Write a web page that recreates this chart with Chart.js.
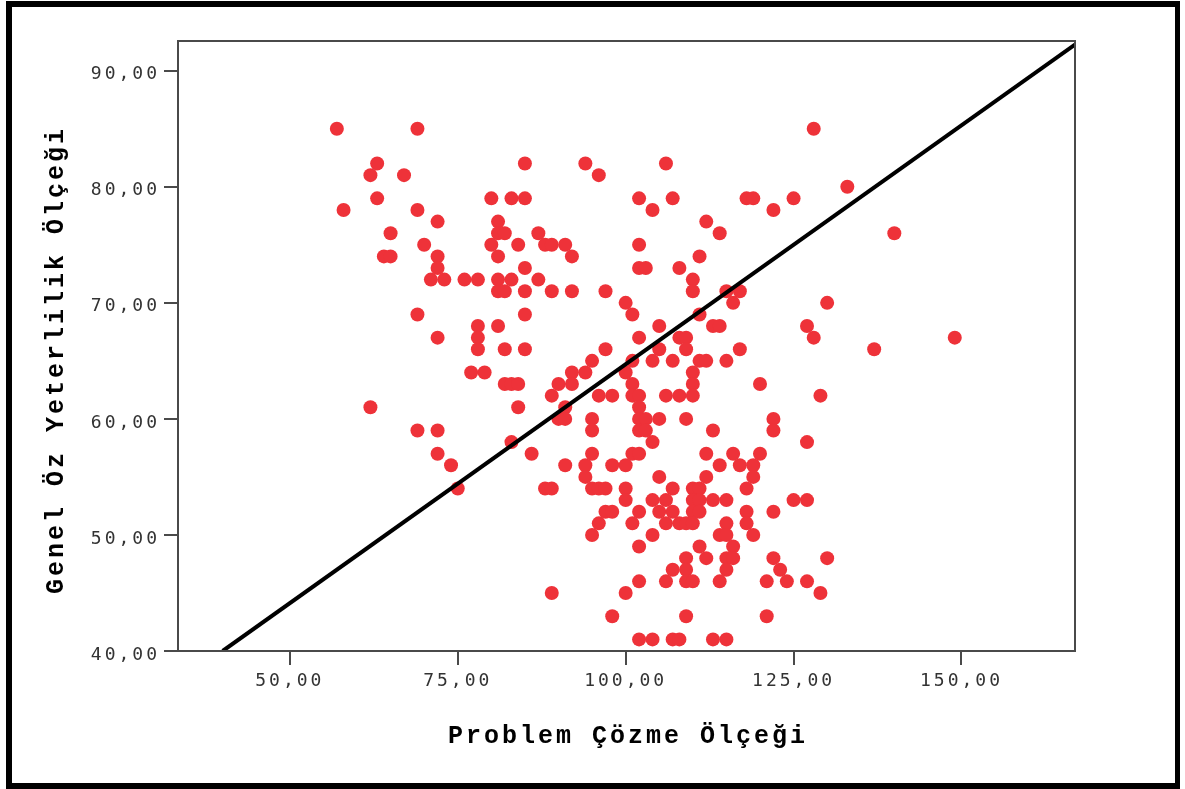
<!DOCTYPE html>
<html>
<head>
<meta charset="utf-8">
<title>Problem Çözme / Genel Öz Yeterlilik</title>
<script src="https://cdn.jsdelivr.net/npm/chart.js@4.4.0/dist/chart.umd.min.js"></script>
<style>
  html, body { margin: 0; padding: 0; background: #fff; }
  canvas { display: block; }
</style>
</head>
<body>
<canvas id="scatter" width="1185" height="789"></canvas>
<script>
// ---------- Data (one line per score level) ----------
const problemScores = [
  57, 69, 128,
  63, 85, 94, 106,
  62, 67, 96,
  133,
  63, 80, 83, 85, 102, 107, 118, 119, 125,
  58, 69, 104, 122,
  72, 81, 112,
  65, 81, 82, 87, 114, 140,
  70, 80, 84, 88, 89, 91, 102,
  64, 65, 72, 81, 92, 111,
  72, 85, 102, 103, 108,
  71, 73, 76, 78, 81, 83, 87, 110,
  81, 82, 85, 89, 92, 97, 110, 115, 117,
  100, 116, 130,
  69, 85, 101, 111,
  78, 81, 105, 113, 114, 127,
  72, 78, 102, 108, 109, 128, 149,
  78, 82, 85, 97, 105, 109, 117, 137,
  95, 101, 104, 107, 111, 112, 115,
  77, 79, 92, 94, 100, 110,
  82, 83, 84, 90, 92, 101, 110, 120,
  89, 96, 98, 101, 102, 106, 108, 110, 129,
  62, 84, 91, 102,
  90, 91, 95, 102, 103, 105, 109, 122,
  69, 72, 95, 102, 103, 113, 122,
  83, 104, 127,
  72, 86, 95, 101, 102, 112, 116, 120,
  74, 91, 94, 98, 100, 114, 117, 119,
  94, 105, 112, 119,
  75, 88, 89, 95, 96, 97, 100, 107, 110, 111, 118,
  100, 104, 106, 110, 111, 113, 115, 125, 127,
  97, 98, 102, 105, 107, 110, 111, 118, 122,
  96, 101, 106, 108, 109, 110, 115, 118,
  95, 104, 114, 115, 119,
  102, 111, 116,
  109, 112, 115, 116, 122, 130,
  107, 109, 115, 123,
  102, 106, 109, 110, 114, 121, 124, 127,
  89, 100, 129,
  98, 109, 121,
  102, 104, 107, 108, 113, 115
];
const efficacyScores = [
  85, 85, 85,
  82, 82, 82, 82,
  81, 81, 81,
  80,
  79, 79, 79, 79, 79, 79, 79, 79, 79,
  78, 78, 78, 78,
  77, 77, 77,
  76, 76, 76, 76, 76, 76,
  75, 75, 75, 75, 75, 75, 75,
  74, 74, 74, 74, 74, 74,
  73, 73, 73, 73, 73,
  72, 72, 72, 72, 72, 72, 72, 72,
  71, 71, 71, 71, 71, 71, 71, 71, 71,
  70, 70, 70,
  69, 69, 69, 69,
  68, 68, 68, 68, 68, 68,
  67, 67, 67, 67, 67, 67, 67,
  66, 66, 66, 66, 66, 66, 66, 66,
  65, 65, 65, 65, 65, 65, 65,
  64, 64, 64, 64, 64, 64,
  63, 63, 63, 63, 63, 63, 63, 63,
  62, 62, 62, 62, 62, 62, 62, 62, 62,
  61, 61, 61, 61,
  60, 60, 60, 60, 60, 60, 60, 60,
  59, 59, 59, 59, 59, 59, 59,
  58, 58, 58,
  57, 57, 57, 57, 57, 57, 57, 57,
  56, 56, 56, 56, 56, 56, 56, 56,
  55, 55, 55, 55,
  54, 54, 54, 54, 54, 54, 54, 54, 54, 54, 54,
  53, 53, 53, 53, 53, 53, 53, 53, 53,
  52, 52, 52, 52, 52, 52, 52, 52, 52,
  51, 51, 51, 51, 51, 51, 51, 51,
  50, 50, 50, 50, 50,
  49, 49, 49,
  48, 48, 48, 48, 48, 48,
  47, 47, 47, 47,
  46, 46, 46, 46, 46, 46, 46, 46,
  45, 45, 45,
  43, 43, 43,
  41, 41, 41, 41, 41, 41
];

// fit line end points
const fitLineX = [40, 167];
const fitLineY = [40, 92.3];

const xTicks = [50, 75, 100, 125, 150];
const yTicks = [40, 50, 60, 70, 80, 90];
const X_TITLE = 'Problem Çözme Ölçeği';
const Y_TITLE = 'Genel Öz Yeterlilik Ölçeği';

// ---------- Helpers ----------
const DOT = '#ee3239';
const AXIS = '#4a4a4a';
const tickFont = { family: '"DejaVu Sans Mono", monospace', size: 18 };
const fmt = (v) => Number(v).toFixed(2).replace('.', ',');

// SPSS style: frame, axis titles, outer border
const framePlugin = {
  id: 'frame',
  beforeUpdate(chart) { chart.ctx.letterSpacing = '3px'; },
  beforeDraw(chart) { chart.ctx.letterSpacing = '3px'; },
  afterDraw(chart) {
    const { ctx, chartArea: a } = chart;
    ctx.save();
    ctx.strokeStyle = AXIS;
    ctx.lineWidth = 2;
    ctx.strokeRect(a.left, a.top, a.right - a.left, a.bottom - a.top);

    ctx.fillStyle = '#000';
    ctx.font = 'bold 25px "Liberation Mono", monospace';
    ctx.letterSpacing = '3px';
    ctx.textAlign = 'center';
    ctx.textBaseline = 'alphabetic';
    ctx.fillText(X_TITLE, (a.left + a.right) / 2 + 1.5, 743);

    ctx.translate(63, 360);
    ctx.rotate(-Math.PI / 2);
    ctx.fillText(Y_TITLE, 0, 0);
    ctx.restore();

    // outer black border
    ctx.save();
    ctx.fillStyle = '#000';
    ctx.fillRect(6, 1, 1174, 6);
    ctx.fillRect(6, 783, 1174, 6);
    ctx.fillRect(6, 1, 6, 788);
    ctx.fillRect(1175, 1, 5, 788);
    ctx.restore();
  },
};

const points = problemScores.map((x, i) => ({ x, y: efficacyScores[i] }));
const fitLine = fitLineX.map((x, i) => ({ x, y: fitLineY[i] }));

new Chart(document.getElementById('scatter'), {
  type: 'scatter',
  data: {
    datasets: [
      {
        label: 'fit',
        data: fitLine,
        showLine: true,
        borderColor: '#000',
        borderWidth: 4,
        pointRadius: 0,
        pointHoverRadius: 0,
      },
      {
        label: 'scores',
        data: points,
        backgroundColor: DOT,
        borderWidth: 0,
        pointRadius: 7,
        pointHoverRadius: 7,
      },
    ],
  },
  options: {
    responsive: false,
    devicePixelRatio: 1,
    animation: false,
    layout: { padding: { top: 41, right: 110, left: 0, bottom: 0 } },
    plugins: {
      legend: { display: false },
      tooltip: { enabled: false },
    },
    scales: {
      x: {
        type: 'linear',
        position: 'bottom',
        min: 33.35,
        max: 166.9,
        afterBuildTicks: (s) => { s.ticks = xTicks.map((v) => ({ value: v })); },
        afterFit: (s) => { s.height = 138; },
        border: { display: false },
        grid: { drawOnChartArea: false, drawTicks: true, tickLength: 14, tickWidth: 2, tickColor: AXIS, lineWidth: 2 },
        ticks: { color: '#333', font: tickFont, padding: 6, maxRotation: 0, autoSkip: false, callback: fmt },
      },
      y: {
        type: 'linear',
        position: 'left',
        min: 40,
        max: 92.56,
        afterBuildTicks: (s) => { s.ticks = yTicks.map((v) => ({ value: v })); },
        afterFit: (s) => { s.width = 178; },
        border: { display: false },
        grid: { drawOnChartArea: false, drawTicks: true, tickLength: 14, tickWidth: 2, tickColor: AXIS, lineWidth: 2 },
        ticks: { color: '#333', font: tickFont, padding: 4, labelOffset: 4, autoSkip: false, callback: fmt },
      },
    },
  },
  plugins: [framePlugin],
});
</script>
</body>
</html>
